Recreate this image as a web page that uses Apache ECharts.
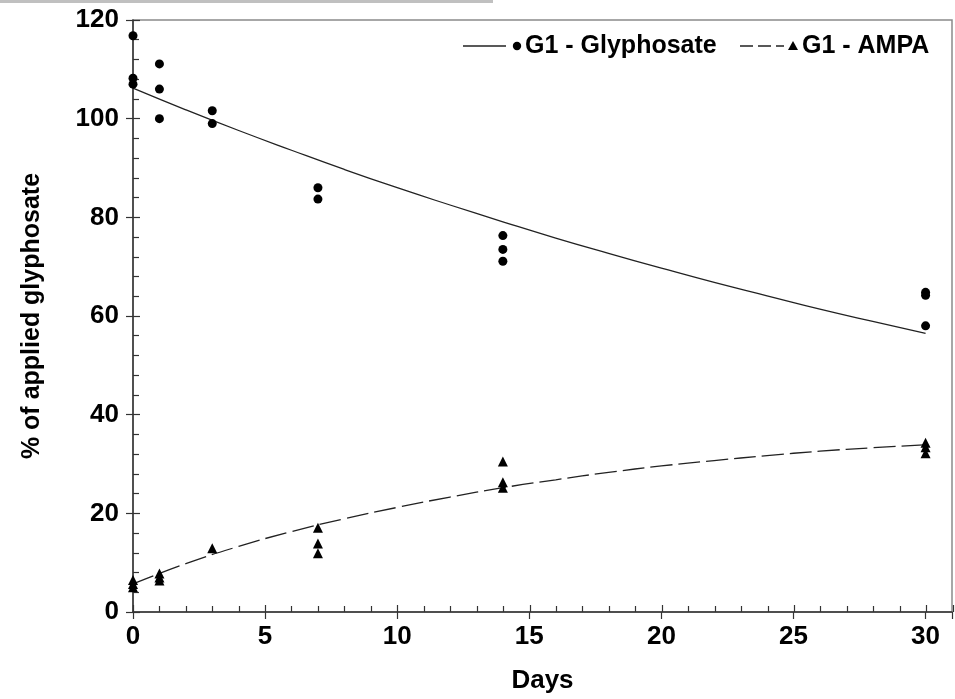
<!DOCTYPE html>
<html>
<head>
<meta charset="utf-8">
<script src="https://cdn.jsdelivr.net/npm/echarts@6/dist/echarts.min.js"></script>
<style>
html,body{margin:0;padding:0;background:#fff;overflow:hidden;}
#chart{width:955px;height:699px;}
</style>
</head>
<body>
<div id="chart"></div>
<script>
// ---- data ----
const glyDays   = [0, 0, 0, 1, 1, 1, 3, 3, 7, 7, 14, 14, 14, 30, 30, 30];
const glyValues = [116.8, 108.2, 107, 111.1, 106, 100, 101.6, 99, 86, 83.7, 76.3, 73.5, 71.1, 64.8, 64.2, 58];
const ampaDays   = [0, 0, 0, 1, 1, 1, 3, 7, 7, 7, 14, 14, 14, 30, 30, 30];
const ampaValues = [6.5, 5.7, 5, 7.8, 7, 6.4, 12.9, 17.1, 13.9, 11.9, 30.5, 26.3, 25.2, 34.3, 33.4, 32.2];
const fitDays  = [0, 2, 4, 6, 8, 10, 12, 14, 16, 18, 20, 22, 24, 26, 28, 30];
const glyFit   = [106.2, 101.8, 97.6, 93.6, 89.7, 86, 82.5, 79.1, 75.8, 72.7, 69.7, 66.8, 64.1, 61.4, 58.9, 56.5];
const ampaFit  = [5.7, 9.8, 13.3, 16.3, 18.9, 21.2, 23.3, 25.2, 26.8, 28.3, 29.6, 30.7, 31.7, 32.6, 33.3, 33.9];
const xTickLabels = [0, 5, 10, 15, 20, 25, 30];
const yTickLabels = [0, 20, 40, 60, 80, 100, 120];
const legendNames = ['G1 - Glyphosate', 'G1 - AMPA'];
const xName = 'Days';
const yName = '% of applied glyphosate';

const FONT = '"Liberation Sans", Arial, sans-serif';
const AX = '#333';

const pair = (xs, ys) => xs.map((x, i) => [x, ys[i]]);

const chart = echarts.init(document.getElementById('chart'));

const gridBox = {left: 133, top: 20, right: 2, bottom: 87};

const option = {
  animation: false,
  backgroundColor: '#fff',
  grid: [
    Object.assign({show: true, borderColor: '#8a8a8a', borderWidth: 1.5, backgroundColor: 'transparent'}, gridBox),
    Object.assign({show: false}, gridBox)
  ],
  xAxis: [
    {
      type: 'value', gridIndex: 0, min: 0, max: 31, interval: 5, position: 'bottom',
      name: xName, nameLocation: 'middle', nameGap: 56,
      nameTextStyle: {fontFamily: FONT, fontWeight: 'bold', fontSize: 26, color: '#000'},
      axisLine: {show: true, onZero: false, lineStyle: {color: AX, width: 1.5}},
      axisTick: {show: true, inside: false, length: 7, lineStyle: {color: AX, width: 1.2}},
      minorTick: {show: false},
      splitLine: {show: false},
      axisLabel: {
        margin: 12, fontFamily: FONT, fontWeight: 'bold', fontSize: 26, color: '#000',
        formatter: v => (xTickLabels.indexOf(v) >= 0 ? String(v) : '')
      }
    },
    {
      type: 'value', gridIndex: 1, min: 0, max: 31, interval: 5, position: 'bottom',
      axisLine: {show: false},
      axisTick: {show: true, inside: true, length: 7, lineStyle: {color: AX, width: 1.2}},
      minorTick: {show: true, splitNumber: 5, length: 6, lineStyle: {color: AX, width: 1.2}},
      splitLine: {show: false},
      axisLabel: {show: false}
    }
  ],
  yAxis: [
    {
      type: 'value', gridIndex: 0, min: 0, max: 120, interval: 20, position: 'left',
      name: yName, nameLocation: 'middle', nameGap: 88,
      nameTextStyle: {fontFamily: FONT, fontWeight: 'bold', fontSize: 25, color: '#000'},
      axisLine: {show: true, onZero: false, lineStyle: {color: AX, width: 1.5}},
      axisTick: {show: true, inside: false, length: 7, lineStyle: {color: AX, width: 1.2}},
      minorTick: {show: false},
      splitLine: {show: false},
      axisLabel: {
        margin: 14, fontFamily: FONT, fontWeight: 'bold', fontSize: 26, color: '#000',
        formatter: v => (yTickLabels.indexOf(v) >= 0 ? String(v) : '')
      }
    },
    {
      type: 'value', gridIndex: 1, min: 0, max: 120, interval: 20, position: 'left',
      axisLine: {show: false},
      axisTick: {show: true, inside: true, length: 7, lineStyle: {color: AX, width: 1.2}},
      minorTick: {show: true, splitNumber: 5, length: 6, lineStyle: {color: AX, width: 1.2}},
      splitLine: {show: false},
      axisLabel: {show: false}
    }
  ],
  series: [
    {
      name: legendNames[0] + ' fit', type: 'line', xAxisIndex: 0, yAxisIndex: 0,
      data: pair(fitDays, glyFit), smooth: true, showSymbol: false,
      lineStyle: {color: '#222', width: 1.3}, z: 2
    },
    {
      name: legendNames[1] + ' fit', type: 'line', xAxisIndex: 0, yAxisIndex: 0,
      data: pair(fitDays, ampaFit), smooth: true, showSymbol: false,
      lineStyle: {color: '#222', width: 1.3, type: [22, 6]}, z: 2
    },
    {
      name: legendNames[0], type: 'scatter', xAxisIndex: 0, yAxisIndex: 0,
      data: pair(glyDays, glyValues), symbol: 'circle', symbolSize: 9,
      itemStyle: {color: '#000', opacity: 1}, z: 3
    },
    {
      name: legendNames[1], type: 'scatter', xAxisIndex: 0, yAxisIndex: 0,
      data: pair(ampaDays, ampaValues), symbol: 'triangle', symbolSize: 10,
      itemStyle: {color: '#000', opacity: 1}, z: 3
    }
  ],
  graphic: [
    {type: 'rect', left: 0, top: 0, shape: {x: 0, y: 0, width: 493, height: 3}, style: {fill: '#c0c0c0'}, silent: true},
    // legend: Glyphosate
    {type: 'line', shape: {x1: 463, y1: 46, x2: 506, y2: 46}, style: {stroke: '#222', lineWidth: 1.3}},
    {type: 'circle', shape: {cx: 517, cy: 46, r: 4.2}, style: {fill: '#000'}},
    {type: 'text', x: 525, y: 46, style: {text: legendNames[0], font: 'bold 25px ' + FONT, fill: '#000', textVerticalAlign: 'middle', verticalAlign: 'middle'}},
    // legend: AMPA
    {type: 'line', shape: {x1: 740, y1: 46, x2: 784, y2: 46}, style: {stroke: '#222', lineWidth: 1.3, lineDash: [13, 5]}},
    {type: 'polygon', shape: {points: [[793, 41], [788, 50], [798, 50]]}, style: {fill: '#000'}},
    {type: 'text', x: 802, y: 46, style: {text: legendNames[1], font: 'bold 25px ' + FONT, fill: '#000', textVerticalAlign: 'middle', verticalAlign: 'middle'}}
  ]
};

chart.setOption(option);
</script>
</body>
</html>
